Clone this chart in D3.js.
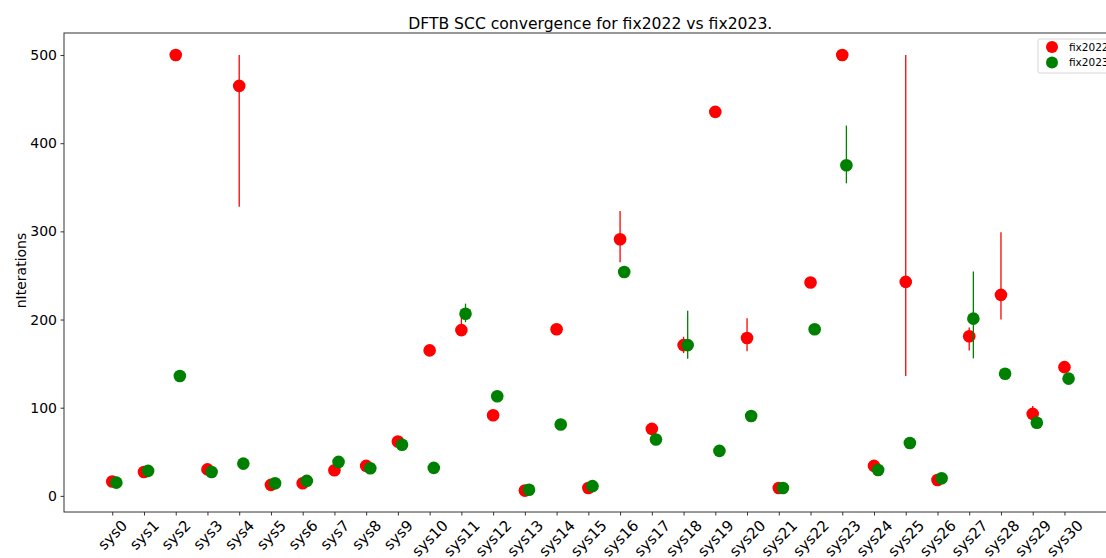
<!DOCTYPE html>
<html>
<head>
<meta charset="utf-8">
<script src="https://cdn.jsdelivr.net/npm/d3@7/dist/d3.min.js"></script>
<style>
  html, body { margin: 0; padding: 0; background: #fff; }
  svg { display: block; font-family: "DejaVu Sans", sans-serif; }
</style>
</head>
<body>
<svg id="chart" width="1106" height="558"></svg>
<script>
const categories = d3.range(31).map(i => "sys" + i);
const seriesNames = ["fix2022", "fix2023"];
const seriesColors = ["#ff0000", "#008000"];

const fix2022 = [16.3, 27, 500, 30, 465, 12.5, 14.3, 29, 34, 61.6, 165, 188, 91.4, 6, 189, 9, 291, 76, 171, 435.5, 179, 9, 242, 500, 34, 242.7, 18, 181, 228, 93, 146];
const fix2023 = [15, 28.3, 136, 27, 36.6, 14.3, 17, 38.5, 31.4, 58, 31.7, 206.5, 113, 7, 81, 11, 254, 64, 171, 51, 90.6, 9, 189, 375, 29.4, 60, 20, 201, 138.5, 83, 133];

// error bar bounds (null = no error bar)
const fix2022Lo = [null, null, null, null, 328, null, null, null, null, null, null, 182, null, null, null, null, 265, null, 162, null, 164, null, null, null, null, 136, null, 165, 200, 88, null];
const fix2022Hi = [null, null, null, null, 500, null, null, null, null, null, null, 203, null, null, null, null, 323, null, 180.5, null, 201.5, null, null, null, null, 500, null, 191, 299, 102, null];
const fix2023Lo = [null, null, null, null, null, null, null, null, null, null, null, 197, null, null, null, null, null, null, 155.5, null, 86, null, null, 354.5, null, null, null, 156, null, null, null];
const fix2023Hi = [null, null, null, null, null, null, null, null, null, null, null, 218, null, null, null, null, null, null, 210, null, 97, null, null, 420, null, null, null, 254.5, null, null, null];

const yTicks = [0, 100, 200, 300, 400, 500];
const xOffsets = [0, 0.13];

const svg = d3.select("#chart");
const M = { left: 64, right: 1116.5, top: 33, bottom: 512 };

const x = d3.scaleLinear().domain([-1.52, 31.64]).range([M.left, M.right]);
const y = d3.scaleLinear().domain([-18.3, 525]).range([M.bottom, M.top]);

// title
svg.append("text")
  .attr("x", (M.left + M.right) / 2).attr("y", 28.5)
  .attr("text-anchor", "middle")
  .attr("font-size", "15.6px").attr("fill", "#000")
  .text("DFTB SCC convergence for fix2022 vs fix2023.");

// y axis
const yAxis = svg.append("g")
  .attr("transform", `translate(${M.left},0)`)
  .call(d3.axisLeft(y).tickValues(yTicks).tickSize(3.5).tickPadding(3.5).tickFormat(d3.format("d")));
yAxis.select(".domain").remove();
yAxis.selectAll("text").attr("font-size", "14px").attr("fill", "#000").attr("font-family", "DejaVu Sans, sans-serif");
yAxis.selectAll("line").attr("stroke", "#333");

// x axis
const xAxis = svg.append("g")
  .attr("transform", `translate(0,${M.bottom})`)
  .call(d3.axisBottom(x).tickValues(d3.range(categories.length)).tickSize(3.5).tickFormat(i => categories[i]));
xAxis.select(".domain").remove();
xAxis.selectAll("line").attr("stroke", "#333");
xAxis.selectAll("text")
  .attr("font-size", "15px").attr("fill", "#000").attr("font-family", "DejaVu Sans, sans-serif")
  .attr("dy", null).attr("y", null)
  .each(function() {
    const t = d3.select(this);
    const w = this.getComputedTextLength();
    const h = 15 * 0.95;
    const bh = (w + h) * Math.SQRT1_2;
    t.attr("text-anchor", "middle")
     .attr("dominant-baseline", "central")
     .attr("transform", `translate(0,${3.5 + 2.5 + bh / 2}) rotate(-45)`);
  });

// y label
svg.append("text")
  .attr("transform", `translate(26,${(M.top + M.bottom) / 2 - 2}) rotate(-90)`)
  .attr("text-anchor", "middle")
  .attr("font-size", "14px").attr("fill", "#000")
  .text("nIterations");

// spines
svg.append("rect")
  .attr("x", M.left).attr("y", M.top).attr("width", M.right - M.left).attr("height", M.bottom - M.top)
  .attr("fill", "none").attr("stroke", "#333").attr("stroke-width", 1);

const series = [
  { vals: fix2022, lo: fix2022Lo, hi: fix2022Hi },
  { vals: fix2023, lo: fix2023Lo, hi: fix2023Hi }
];

series.forEach((s, si) => {
  const g = svg.append("g");
  const idx = d3.range(s.vals.length);
  g.selectAll("line.err").data(idx.filter(i => s.lo[i] !== null)).join("line")
    .attr("class", "err")
    .attr("x1", i => x(i + xOffsets[si])).attr("x2", i => x(i + xOffsets[si]))
    .attr("y1", i => y(s.lo[i])).attr("y2", i => y(s.hi[i]))
    .attr("stroke", seriesColors[si]).attr("stroke-width", 1.3);
  g.selectAll("circle").data(idx).join("circle")
    .attr("cx", i => x(i + xOffsets[si])).attr("cy", i => y(s.vals[i]))
    .attr("r", 6.3).attr("fill", seriesColors[si]);
});

// legend
const lg = svg.append("g");
lg.append("rect").attr("x", 1038).attr("y", 39).attr("width", 100).attr("height", 34).attr("rx", 2)
  .attr("fill", "#fff").attr("fill-opacity", 0.8).attr("stroke", "#d6d6d6");
seriesNames.forEach((n, i) => {
  lg.append("circle").attr("cx", 1052).attr("cy", 47 + i * 15.5).attr("r", 6).attr("fill", seriesColors[i]);
  lg.append("text").attr("x", 1069).attr("y", 47 + i * 15.5 + 3.8)
    .attr("font-size", "10.5px").attr("fill", "#000").text(n);
});
</script>
</body>
</html>
